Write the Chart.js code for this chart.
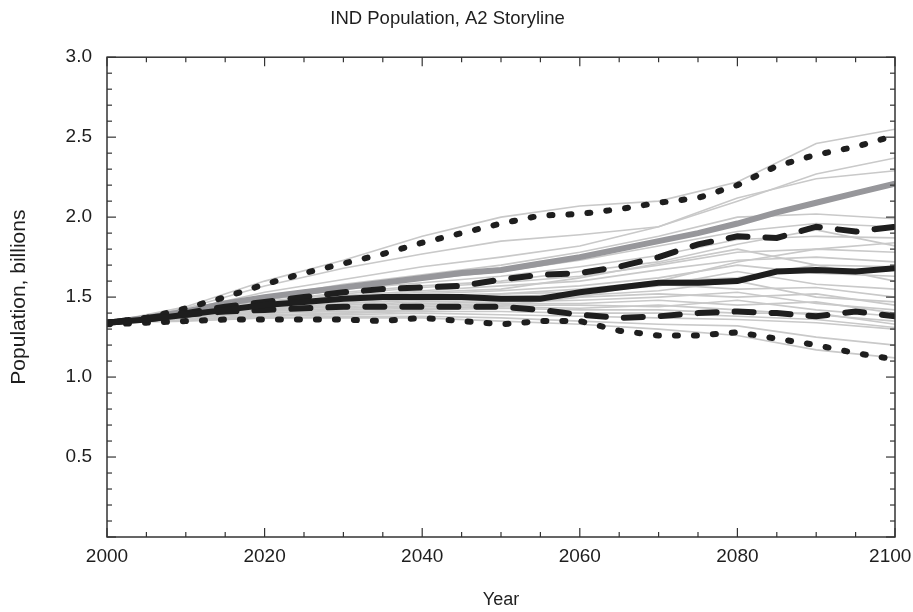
<!DOCTYPE html>
<html>
<head>
<meta charset="utf-8">
<script src="https://cdn.jsdelivr.net/npm/chart.js@4/dist/chart.umd.min.js"></script>
<style>
  html, body { margin: 0; padding: 0; background: #fff; }
  #wrap { width: 913px; height: 612px; }
</style>
</head>
<body>
<div id="wrap"><canvas id="chart-ind"></canvas></div>
<script>
/* IND Population, A2 Storyline — Werte in Milliarden */

const years5  = [2000,2005,2010,2015,2020,2025,2030,2035,2040,2045,2050,2055,2060,2065,2070,2075,2080,2085,2090,2095,2100];
const years10 = [2000,2010,2020,2030,2040,2050,2060,2070,2080,2090,2100];

const upperDotted = [1.34,1.37,1.43,1.50,1.58,1.65,1.71,1.77,1.84,1.90,1.96,2.01,2.02,2.05,2.09,2.12,2.20,2.32,2.39,2.44,2.51];
const upperDashed = [1.34,1.37,1.40,1.44,1.47,1.50,1.53,1.55,1.56,1.57,1.61,1.64,1.65,1.69,1.75,1.83,1.88,1.87,1.94,1.91,1.94];
const medianLine  = [1.34,1.36,1.39,1.42,1.45,1.47,1.49,1.50,1.50,1.50,1.49,1.49,1.53,1.56,1.59,1.59,1.60,1.66,1.67,1.66,1.68];
const lowerDashed = [1.34,1.36,1.39,1.41,1.42,1.43,1.44,1.44,1.44,1.44,1.44,1.42,1.39,1.37,1.38,1.40,1.41,1.40,1.38,1.41,1.38];
const lowerDotted = [1.33,1.34,1.35,1.36,1.36,1.36,1.36,1.35,1.37,1.35,1.33,1.35,1.35,1.29,1.26,1.26,1.28,1.24,1.20,1.15,1.11];
const a2Marker    = [1.34,1.37,1.41,1.46,1.50,1.53,1.56,1.59,1.62,1.65,1.67,1.71,1.75,1.80,1.85,1.90,1.96,2.03,2.09,2.15,2.21];

/* einzelne Läufe (grau), Stützstellen alle 10 Jahre */
const grayRuns = [
  [1.34,1.44,1.60,1.73,1.88,2.00,2.07,2.10,2.22,2.46,2.55],
  [1.34,1.43,1.57,1.68,1.77,1.85,1.89,1.94,2.10,2.27,2.37],
  [1.34,1.42,1.53,1.61,1.69,1.75,1.82,1.94,2.12,2.24,2.29],
  [1.34,1.41,1.50,1.58,1.64,1.70,1.78,1.88,2.00,2.02,1.99],
  [1.34,1.41,1.49,1.56,1.61,1.66,1.73,1.82,1.91,1.96,1.94],
  [1.34,1.40,1.48,1.55,1.59,1.63,1.69,1.76,1.86,1.88,1.87],
  [1.34,1.40,1.47,1.53,1.57,1.60,1.66,1.72,1.83,1.92,1.82],
  [1.34,1.40,1.47,1.52,1.56,1.59,1.63,1.70,1.78,1.80,1.78],
  [1.34,1.39,1.46,1.51,1.54,1.57,1.60,1.67,1.73,1.75,1.72],
  [1.34,1.39,1.45,1.50,1.53,1.55,1.62,1.71,1.80,1.70,1.69],
  [1.34,1.39,1.45,1.49,1.52,1.54,1.57,1.62,1.70,1.65,1.63],
  [1.34,1.39,1.44,1.48,1.51,1.52,1.55,1.60,1.62,1.70,1.60],
  [1.34,1.38,1.44,1.47,1.50,1.52,1.53,1.57,1.66,1.58,1.55],
  [1.34,1.38,1.43,1.46,1.49,1.50,1.52,1.58,1.55,1.56,1.50],
  [1.34,1.38,1.43,1.46,1.48,1.49,1.51,1.54,1.60,1.50,1.47],
  [1.34,1.38,1.42,1.45,1.47,1.48,1.50,1.52,1.50,1.52,1.45],
  [1.34,1.38,1.42,1.44,1.46,1.47,1.48,1.50,1.53,1.46,1.42],
  [1.34,1.37,1.41,1.43,1.45,1.46,1.46,1.48,1.45,1.47,1.40],
  [1.34,1.37,1.41,1.43,1.44,1.45,1.45,1.44,1.48,1.42,1.38],
  [1.34,1.37,1.40,1.42,1.43,1.44,1.43,1.45,1.42,1.39,1.35],
  [1.34,1.37,1.40,1.41,1.42,1.43,1.42,1.42,1.40,1.40,1.33],
  [1.34,1.36,1.39,1.40,1.41,1.41,1.40,1.40,1.38,1.36,1.31],
  [1.34,1.36,1.38,1.39,1.40,1.39,1.38,1.37,1.36,1.34,1.30],
  [1.34,1.36,1.37,1.38,1.38,1.37,1.35,1.33,1.32,1.25,1.20],
  [1.34,1.35,1.37,1.37,1.37,1.35,1.33,1.30,1.26,1.17,1.12],
  [1.34,1.36,1.38,1.40,1.42,1.45,1.50,1.60,1.72,1.80,1.84],
];

const xTicks = [2000,2020,2040,2060,2080,2100];
const yTicks = [0.5,1.0,1.5,2.0,2.5,3.0];

const FONT = "'Liberation Sans', Arial, sans-serif";
const INK = '#1e1e1e';

const pts = (xs, ys) => ys.map((v, i) => ({ x: xs[i], y: v }));

const datasets = [];
grayRuns.forEach(run => datasets.push({
  data: pts(years10, run), borderColor: '#c9c9c9', borderWidth: 1.6, order: 3,
}));
datasets.push({ data: pts(years5, a2Marker), borderColor: '#97979b', borderWidth: 6, order: 2 });
datasets.push({ data: pts(years5, medianLine), borderColor: INK, borderWidth: 6, order: 1 });
datasets.push({ data: pts(years5, upperDashed), borderColor: INK, borderWidth: 6, borderDash: [19, 18], borderCapStyle: 'round', order: 1 });
datasets.push({ data: pts(years5, lowerDashed), borderColor: INK, borderWidth: 6, borderDash: [19, 18], borderCapStyle: 'round', order: 1 });
datasets.push({ data: pts(years5, upperDotted), borderColor: INK, borderWidth: 6, borderDash: [3, 16], borderCapStyle: 'round', order: 1 });
datasets.push({ data: pts(years5, lowerDotted), borderColor: INK, borderWidth: 6, borderDash: [3, 16], borderCapStyle: 'round', order: 1 });

/* Rahmen + Tickmarken nach innen, auf allen vier Seiten */
const frameTicks = {
  id: 'frameTicks',
  afterDatasetsDraw(chart) {
    const { ctx, chartArea: a, scales: { x, y } } = chart;
    ctx.save();
    ctx.strokeStyle = '#333';
    ctx.lineWidth = 1.2;
    const seg = (x1, y1, x2, y2) => { ctx.beginPath(); ctx.moveTo(x1, y1); ctx.lineTo(x2, y2); ctx.stroke(); };
    for (let yr = 2000; yr <= 2100; yr += 5) {
      const px = x.getPixelForValue(yr);
      const len = yr % 20 === 0 ? 9 : 5;
      seg(px, a.bottom, px, a.bottom - len);
      seg(px, a.top, px, a.top + len);
    }
    for (let i = 0; i <= 30; i++) {
      const py = y.getPixelForValue(i / 10);
      const len = i % 5 === 0 ? 9 : 5;
      seg(a.left, py, a.left + len, py);
      seg(a.right, py, a.right - len, py);
    }
    ctx.lineWidth = 1.5;
    ctx.strokeRect(a.left, a.top, a.right - a.left, a.bottom - a.top);
    ctx.restore();
  },
};

new Chart(document.getElementById('chart-ind'), {
  type: 'line',
  data: { datasets },
  plugins: [frameTicks],
  options: {
    responsive: true,
    maintainAspectRatio: false,
    animation: false,
    events: [],
    layout: { padding: { left: 0, right: 18, top: 0, bottom: 0 } },
    elements: { point: { radius: 0 }, line: { tension: 0, fill: false } },
    plugins: {
      legend: { display: false },
      tooltip: { enabled: false },
      title: {
        display: true, text: 'IND Population, A2 Storyline', color: INK,
        font: { family: FONT, size: 18.5, weight: 'normal' }, padding: { top: 8, bottom: 27 },
      },
    },
    scales: {
      x: {
        type: 'linear', min: 2000, max: 2100,
        afterBuildTicks: s => { s.ticks = xTicks.map(v => ({ value: v })); },
        afterFit: s => { s.height = 75; s.paddingLeft = 0; s.paddingRight = 0; },
        grid: { display: false, drawTicks: false, tickLength: 0 }, border: { display: false },
        /* letzte Beschriftung etwas nach links, damit "2100" nicht abgeschnitten wird */
        ticks: { color: INK, font: { family: FONT, size: 19 }, padding: 8, maxRotation: 0,
                 callback: v => v === 2100 ? '2100\u2002' : String(v) },
        title: { display: true, text: 'Year', color: INK, font: { family: FONT, size: 18 }, padding: { top: 0, bottom: 1 } },
      },
      y: {
        min: 0, max: 3.0,
        afterBuildTicks: s => { s.ticks = yTicks.map(v => ({ value: v })); },
        afterFit: s => { s.width = 107; s.paddingTop = 0; s.paddingBottom = 0; },
        grid: { display: false, drawTicks: false, tickLength: 0 }, border: { display: false },
        ticks: { color: INK, font: { family: FONT, size: 19 }, padding: 15, callback: v => v.toFixed(1) },
        title: { display: true, text: 'Population, billions', color: INK, font: { family: FONT, size: 21 }, padding: { top: 7, bottom: 0 } },
      },
    },
  },
});
</script>
</body>
</html>
